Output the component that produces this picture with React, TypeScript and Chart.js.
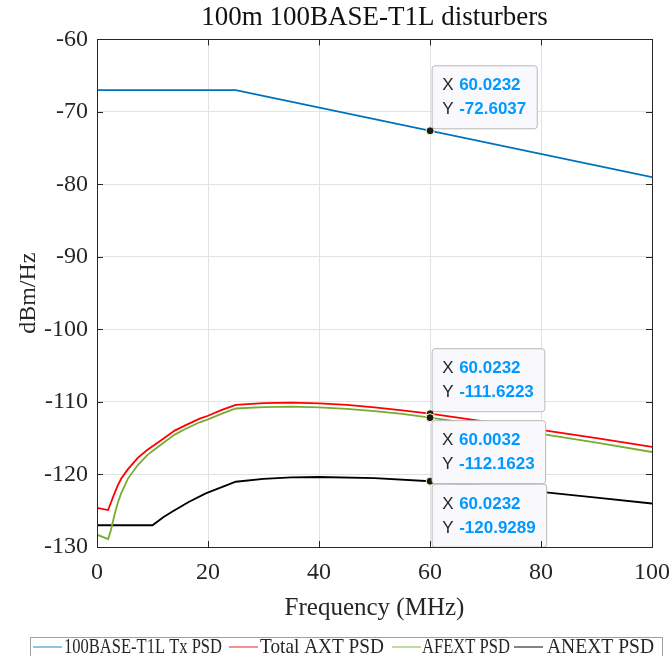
import React, { useEffect, useRef } from "react";
import { Chart, registerables } from "chart.js";

Chart.register(...registerables);

const titleText = "100m 100BASE-T1L disturbers";
const xTitle = "Frequency (MHz)";
const yTitle = "dBm/Hz";
const seriesNames = ["100BASE-T1L Tx PSD", "Total AXT PSD", "AFEXT PSD", "ANEXT PSD"];
const seriesColors = ["#0072BD", "#FF0000", "#77AC30", "#000000"];
const legendColors = ["#6aaee0", "#f26b6b", "#aacf84", "#5a5a5a"];

const freqTx = [0, 25, 100];
const txPsd = [-67, -67, -79];

const freqAxt = [0, 2, 2.5, 3.15, 3.75, 4.35, 5.55, 7.35, 9.1, 11.5, 14, 16, 18.5, 20, 22.5, 25, 30, 35, 40, 45, 50, 55, 60, 70, 80, 90, 100];
const totalAxt = [-124.6, -124.9, -123.9, -122.6, -121.5, -120.6, -119.3, -117.7, -116.6, -115.3, -113.95, -113.2, -112.3, -111.9, -111.1, -110.4, -110.15, -110.1, -110.2, -110.4, -110.75, -111.15, -111.62, -112.7, -113.85, -115.0, -116.2];
const afext = [-128.3, -128.9, -127.7, -125.6, -123.9, -122.6, -120.6, -118.7, -117.3, -115.9, -114.5, -113.7, -112.8, -112.4, -111.6, -110.9, -110.7, -110.65, -110.75, -110.95, -111.25, -111.65, -112.16, -113.25, -114.4, -115.6, -116.9];

const freqAnext = [0, 10, 12, 13.6, 16.6, 19.6, 22.6, 25, 30, 35, 40, 50, 60, 70, 80, 90, 100];
const anext = [-127, -127, -125.85, -125.1, -123.75, -122.6, -121.7, -121.0, -120.6, -120.4, -120.35, -120.5, -120.93, -121.6, -122.4, -123.2, -124.0];

const tipX = [60.0232, 60.0232, 60.0032, 60.0232];
const tipY = [-72.6037, -111.6223, -112.1623, -120.9289];
const tipPlacement = ["above", "above", "below", "below"];

const xTicks = [0, 20, 40, 60, 80, 100];
const yTicks = [-130, -120, -110, -100, -90, -80, -70, -60];

const toPts = (xs: number[], ys: number[]) => xs.map((x, i) => ({ x, y: ys[i] }));

const decorPlugin = {
  id: "decor",
  afterDatasetsDraw(chart: any) {
    const { ctx, chartArea, scales } = chart;
    const xs = scales.x;
    const ys = scales.y;
    ctx.save();
    ctx.beginPath();
    ctx.rect(chartArea.left, chartArea.top, chartArea.right - chartArea.left, chartArea.bottom - chartArea.top);
    ctx.clip();
    const pos = tipX.map((tx, i) => ({ mx: xs.getPixelForValue(tx), my: ys.getPixelForValue(tipY[i]) }));
    pos.forEach(({ mx, my }) => {
      ctx.beginPath();
      ctx.arc(mx, my, 4, 0, Math.PI * 2);
      ctx.fillStyle = "#1a1a1a";
      ctx.fill();
      ctx.lineWidth = 1;
      ctx.strokeStyle = "#ffffc8";
      ctx.stroke();
    });
    tipX.forEach((tx, i) => {
      const { mx, my } = pos[i];
      const xs1 = tx.toFixed(4);
      const ys1 = tipY[i].toFixed(4);
      ctx.font = 'bold 17px "Liberation Sans", Arial, sans-serif';
      const vw = Math.max(ctx.measureText(xs1).width, ctx.measureText(ys1).width);
      const w = 27 + vw + 11;
      const h = 63;
      const left = mx + 2;
      const top = tipPlacement[i] === "above" ? my - 2 - h : my + 3;
      ctx.beginPath();
      ctx.roundRect(left, top, w, h, 3);
      ctx.fillStyle = "#f9f9fd";
      ctx.fill();
      ctx.lineWidth = 1;
      ctx.strokeStyle = "#b9b9b9";
      ctx.stroke();
      ctx.textBaseline = "middle";
      ctx.textAlign = "left";
      ctx.font = '17px "Liberation Sans", Arial, sans-serif';
      ctx.fillStyle = "#262626";
      ctx.fillText("X", left + 10, top + 20);
      ctx.fillText("Y", left + 10, top + 44);
      ctx.font = 'bold 17px "Liberation Sans", Arial, sans-serif';
      ctx.fillStyle = "#0099ff";
      ctx.fillText(xs1, left + 27, top + 20);
      ctx.fillText(ys1, left + 27, top + 44);
    });
    ctx.restore();
  },
  afterDraw(chart: any) {
    const { ctx, chartArea, scales } = chart;
    const { left, right, top, bottom } = chartArea;
    ctx.save();
    ctx.strokeStyle = "#262626";
    ctx.lineWidth = 1;
    ctx.strokeRect(Math.round(left) + 0.5, Math.round(top) + 0.5, Math.round(right - left), Math.round(bottom - top));
    ctx.beginPath();
    yTicks.forEach((v) => {
      const y = Math.round(scales.y.getPixelForValue(v)) + 0.5;
      ctx.moveTo(left, y); ctx.lineTo(left + 6, y);
      ctx.moveTo(right, y); ctx.lineTo(right - 6, y);
    });
    xTicks.forEach((v) => {
      const x = Math.round(scales.x.getPixelForValue(v)) + 0.5;
      ctx.moveTo(x, bottom); ctx.lineTo(x, bottom - 6);
      ctx.moveTo(x, top); ctx.lineTo(x, top + 6);
    });
    ctx.stroke();

    // legend
    const lx0 = 30, ly0 = 637, lx1 = 662, ly1 = 660;
    ctx.fillStyle = "#ffffff";
    ctx.fillRect(lx0, ly0, lx1 - lx0, ly1 - ly0);
    ctx.strokeStyle = "#a0a0a0";
    ctx.strokeRect(lx0 + 0.5, ly0 + 0.5, lx1 - lx0, ly1 - ly0);
    const lineStarts = [33, 229, 392, 514];
    const textStarts = [64, 260, 422, 547];
    const textWidths = [158, 124, 88, 107];
    const cy = 647;
    ctx.font = '21px "Liberation Serif", "Times New Roman", serif';
    ctx.textBaseline = "middle";
    ctx.textAlign = "left";
    seriesNames.forEach((name, i) => {
      ctx.beginPath();
      ctx.strokeStyle = legendColors[i];
      ctx.lineWidth = 1.5;
      ctx.moveTo(lineStarts[i], cy);
      ctx.lineTo(lineStarts[i] + 29, cy);
      ctx.stroke();
      const mw = ctx.measureText(name).width;
      ctx.save();
      ctx.translate(textStarts[i], cy);
      ctx.scale(textWidths[i] / mw, 1);
      ctx.fillStyle = "#262626";
      ctx.fillText(name, 0, 0);
      ctx.restore();
    });
    ctx.restore();
  },
};

export default function App() {
  const ref = useRef<HTMLCanvasElement | null>(null);
  useEffect(() => {
    document.body.style.margin = "0";
    const canvas = ref.current;
    if (!canvas) return;
    const serif = '"Liberation Serif", "Times New Roman", serif';
    const chart = new Chart(canvas, {
      type: "line",
      data: {
        datasets: [
          { label: seriesNames[0], data: toPts(freqTx, txPsd), borderColor: seriesColors[0] },
          { label: seriesNames[1], data: toPts(freqAxt, totalAxt), borderColor: seriesColors[1] },
          { label: seriesNames[2], data: toPts(freqAxt, afext), borderColor: seriesColors[2] },
          { label: seriesNames[3], data: toPts(freqAnext, anext), borderColor: seriesColors[3] },
        ].map((d) => ({ ...d, borderWidth: 1.8, pointRadius: 0, fill: false, tension: 0 })),
      },
      options: {
        animation: false,
        responsive: false,
        events: [],
        layout: { padding: { left: 0, right: 19, top: 0, bottom: 33 } },
        plugins: {
          legend: { display: false },
          tooltip: { enabled: false },
          title: {
            display: true,
            text: titleText,
            fullSize: false,
            color: "#111111",
            font: { family: serif, size: 27, weight: "normal" },
            padding: { top: 2, bottom: 5 },
          },
        },
        scales: {
          x: {
            type: "linear",
            min: 0,
            max: 100,
            afterFit: (s: any) => { s.height = 76; s.paddingLeft = 0; s.paddingRight = 0; },
            afterBuildTicks: (s: any) => { s.ticks = xTicks.map((v) => ({ value: v })); },
            grid: { color: "#e2e2e2", drawTicks: false },
            border: { display: false },
            ticks: { color: "#262626", font: { family: serif, size: 24 }, padding: 11, maxRotation: 0 },
            title: { display: true, text: xTitle, color: "#262626", font: { family: serif, size: 25 }, padding: { top: 0, bottom: 0 } },
          },
          y: {
            type: "linear",
            min: -130,
            max: -60,
            afterFit: (s: any) => { s.width = 97; s.paddingTop = 0; s.paddingBottom = 0; },
            afterBuildTicks: (s: any) => { s.ticks = yTicks.map((v) => ({ value: v })); },
            grid: { color: "#e2e2e2", drawTicks: false },
            border: { display: false },
            ticks: { color: "#262626", font: { family: serif, size: 24 }, padding: 9 },
            title: { display: true, text: yTitle, color: "#262626", font: { family: serif, size: 24 }, padding: { top: 14, bottom: 0 } },
          },
        },
      },
      plugins: [decorPlugin],
    } as any);
    return () => chart.destroy();
  }, []);
  return (
    <div style={{ width: 671, height: 656 }}>
      <canvas ref={ref} width={671} height={656} style={{ display: "block" }} />
    </div>
  );
}
